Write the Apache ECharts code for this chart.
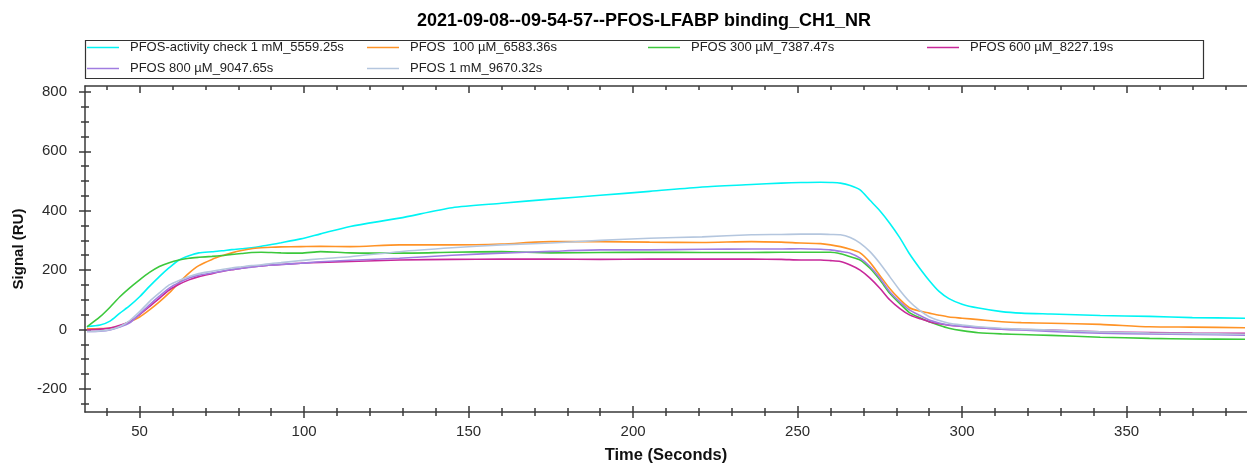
<!DOCTYPE html>
<html>
<head>
<meta charset="utf-8">
<script src="https://cdn.jsdelivr.net/npm/echarts@6/dist/echarts.min.js"></script>
<style>
html,body{margin:0;padding:0;background:#fff;}
#chart{width:1247px;height:463px;}
</style>
</head>
<body>
<div id="chart"></div>
<script>
const chartTitle = '2021-09-08--09-54-57--PFOS-LFABP binding_CH1_NR';
const seriesNames = [
  'PFOS-activity check 1 mM_5559.25s',
  'PFOS  100 µM_6583.36s',
  'PFOS 300 µM_7387.47s',
  'PFOS 600 µM_8227.19s',
  'PFOS 800 µM_9047.65s',
  'PFOS 1 mM_9670.32s'
];
const seriesColors = ['#00f4f4', '#ff9326', '#3cc83c', '#c8289a', '#a07ce0', '#b4c6de'];

const times = [34,38,41,44,47,50,53,56,59,62,65,68,72,75,78,81,84,87,90,93,99,105,114,129,145,160,175,190,205,221,236,245,251,257,260,263,266,269,272,275,278,281,284,287,290,293,296,300,305,312,318,327,342,357,370,386];

const activityCheck1mM = [10,15,28,55,80,110,145,178,208,234,248,258,262,265,269,272,275,280,286,292,305,322,347,375,410,425,439,452,465,480,488,493,495,496,495,493,485,470,435,400,358,310,255,208,165,128,104,85,72,60,55,52,47,44,40,38];
const pfos100uM = [2,3,5,12,26,42,66,93,123,158,190,215,236,248,258,266,272,275,277,278,279,280,279,285,285,288,296,296,294,293,296,294,291,289,285,279,270,258,226,182,138,102,73,62,55,48,42,38,33,26,23,21,17,9,8,6];
const pfos300uM = [9,43,75,110,140,167,192,212,225,234,240,243,246,249,253,256,259,260,259,258,257,262,258,257,260,262,258,259,260,259,259,260,260,260,260,255,245,234,206,167,122,88,57,40,26,14,4,-4,-11,-15,-17,-20,-26,-30,-32,-33];
const pfos600uM = [-2,1,5,14,26,50,77,105,133,152,167,178,188,195,201,206,211,214,217,219,223,226,229,234,236,237,237,236,237,237,237,236,234,234,232,229,217,200,173,139,100,71,49,37,26,19,14,10,6,1,0,-2,-8,-10,-12,-13];
const pfos800uM = [-7,-6,-2,8,22,52,83,112,139,158,173,183,190,196,202,206,210,214,217,219,223,228,233,240,250,257,263,268,268,270,271,271,272,270,268,263,257,240,212,173,127,94,66,48,32,22,15,11,6,1,-2,-7,-13,-15,-17,-19];
const pfos1mM = [-7,-5,-1,10,30,60,94,123,150,165,178,188,196,202,207,211,215,218,222,225,232,238,245,262,275,285,291,300,307,312,319,320,321,321,320,319,310,291,262,223,178,133,94,65,43,30,21,15,9,4,1,-2,-8,-12,-14,-16];

const xRange = [33.4, 386.6];
const yRange = [-278, 820];
const xMajorTicks = [50,100,150,200,250,300,350];
const xMinorTicks = [40,60,70,80,90,110,120,130,140,160,170,180,190,210,220,230,240,260,270,280,290,310,320,330,340,360,370,380];
const yMajorTicks = [-200,0,200,400,600,800];
const yMinorTicks = [-250,-150,-100,-50,50,100,150,250,300,350,450,500,550,650,700,750];
const xAxisName = 'Time (Seconds)';
const yAxisName = 'Signal (RU)';

const allValues = [activityCheck1mM, pfos100uM, pfos300uM, pfos600uM, pfos800uM, pfos1mM];

const FONT = '"Liberation Sans", Arial, sans-serif';
const AXIS_COLOR = '#3a3a3a';

function xAx(position, ticks, inside, len, showLine, showLabel) {
  return {
    type: 'value', position: position, min: xRange[0], max: xRange[1],
    axisLine: { show: showLine, onZero: false, lineStyle: { color: AXIS_COLOR, width: 1.5 } },
    axisTick: { show: true, customValues: ticks, inside: inside, length: len, lineStyle: { color: AXIS_COLOR, width: 1.5 } },
    axisLabel: showLabel ? { show: true, customValues: xMajorTicks, margin: 12, color: '#2a2a2a', fontSize: 15, fontFamily: FONT } : { show: false },
    splitLine: { show: false },
    name: showLabel ? xAxisName : '',
    nameLocation: 'middle', nameGap: 35,
    nameTextStyle: { fontWeight: 'bold', fontSize: 16.5, color: '#111', fontFamily: FONT }
  };
}
function yAx(ticks, inside, len, showLine, showLabel) {
  return {
    type: 'value', position: 'left', min: yRange[0], max: yRange[1],
    axisLine: { show: showLine, onZero: false, lineStyle: { color: AXIS_COLOR, width: 1.5 } },
    axisTick: { show: true, customValues: ticks, inside: inside, length: len, lineStyle: { color: AXIS_COLOR, width: 1.5 } },
    axisLabel: showLabel ? { show: true, customValues: yMajorTicks, margin: 18, color: '#2a2a2a', fontSize: 15, fontFamily: FONT } : { show: false },
    splitLine: { show: false },
    name: showLabel ? yAxisName : '',
    nameLocation: 'middle', nameGap: 58,
    nameTextStyle: { fontWeight: 'bold', fontSize: 15, color: '#111', fontFamily: FONT }
  };
}

const legendLeft = [87, 367, 648, 927, 87, 367];
const legendTop = [41, 41, 41, 41, 62, 62];

const chart = echarts.init(document.getElementById('chart'), null, { renderer: 'canvas' });
chart.setOption({
  backgroundColor: '#fff',
  animation: false,
  title: {
    text: chartTitle, left: 412, top: 7,
    textStyle: { fontSize: 18, fontWeight: 'bold', color: '#000', fontFamily: FONT }
  },
  legend: seriesNames.map((n, i) => ({
    data: [n], left: legendLeft[i], top: legendTop[i], padding: 0,
    icon: 'rect', itemWidth: 32, itemHeight: 1.5,
    textStyle: { fontSize: 13, color: '#222', fontFamily: FONT, padding: [0, 0, 0, 6] }
  })),
  graphic: [{
    type: 'rect', shape: { x: 85.5, y: 40.5, width: 1118, height: 38 },
    style: { fill: 'none', stroke: '#333', lineWidth: 1.2 }, silent: true
  }],
  grid: { left: 85, right: 0, top: 86, bottom: 51, containLabel: false, outerBoundsMode: 'none' },
  xAxis: [
    xAx('bottom', xMajorTicks, false, 6, true, true),
    xAx('bottom', xMajorTicks, true, 6, false, false),
    xAx('bottom', xMinorTicks, false, 4, false, false),
    xAx('bottom', xMinorTicks, true, 4, false, false),
    xAx('top', xMajorTicks, true, 7, true, false),
    xAx('top', xMinorTicks, true, 4, false, false)
  ],
  yAxis: [
    yAx(yMajorTicks, false, 6, true, true),
    yAx(yMajorTicks, true, 6, false, false),
    yAx(yMinorTicks, false, 4, false, false),
    yAx(yMinorTicks, true, 4, false, false)
  ],
  series: seriesNames.map((n, i) => ({
    name: n, type: 'line', xAxisIndex: 0, yAxisIndex: 0,
    data: times.map((t, k) => [t, allValues[i][k]]),
    showSymbol: false, symbol: 'none', smooth: 0.25,
    lineStyle: { color: seriesColors[i], width: 1.6 },
    itemStyle: { color: seriesColors[i] },
    clip: true
  }))
});
</script>
</body>
</html>
